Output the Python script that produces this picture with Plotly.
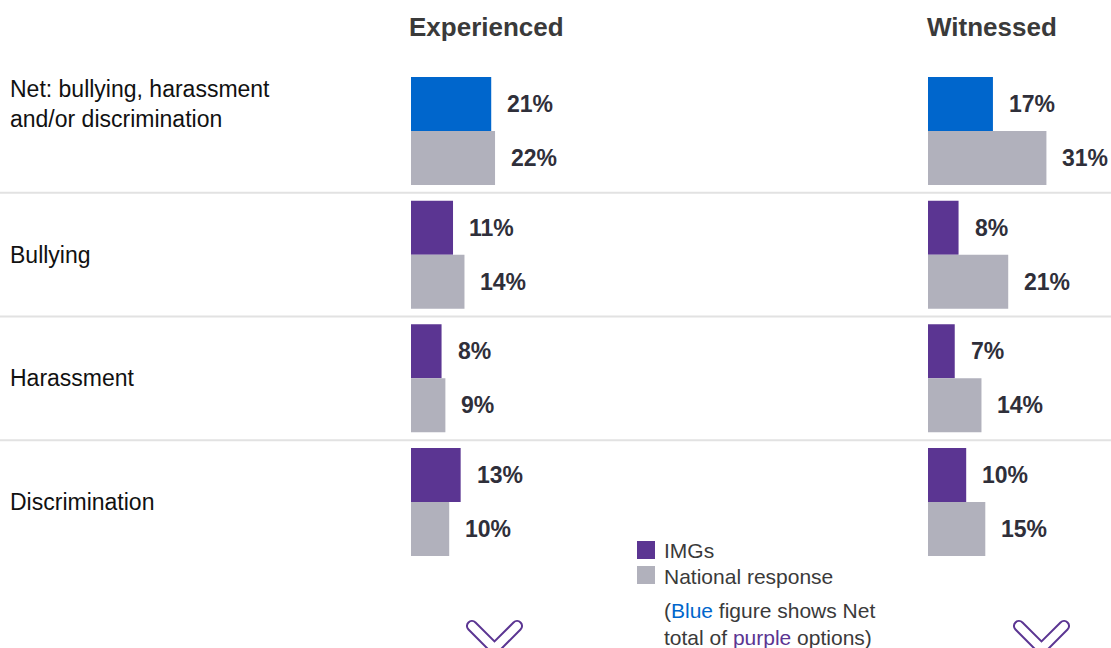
import plotly.graph_objects as go

W, H = 1111, 648

categories = ["Net: bullying, harassment<br>and/or discrimination", "Bullying", "Harassment", "Discrimination"]
imgs_experienced = [21, 11, 8, 13]
national_experienced = [22, 14, 9, 10]
imgs_witnessed = [17, 8, 7, 10]
national_witnessed = [31, 21, 14, 15]
panel_titles = ["Experienced", "Witnessed"]

BLUE = "#0066CC"
PURPLE = "#5B3592"
GREY = "#B1B1BC"
TXT = "#2F2F3A"
FONT = "Arial, Liberation Sans, sans-serif"

ypos = list(range(len(categories)))
imgs_colors = [BLUE] + [PURPLE] * (len(categories) - 1)

def px(x):
    return x / W

def py(y):
    return 1 - y / H

fig = go.Figure()
panels = [("x", imgs_experienced, national_experienced), ("x2", imgs_witnessed, national_witnessed)]
for xa, imgs, nat in panels:
    fig.add_trace(go.Bar(y=ypos, x=imgs, orientation="h", xaxis=xa, yaxis="y",
                         marker=dict(color=imgs_colors, line=dict(width=0)), name="IMGs",
                         showlegend=False, hoverinfo="skip"))
    fig.add_trace(go.Bar(y=ypos, x=nat, orientation="h", xaxis=xa, yaxis="y",
                         marker=dict(color=GREY, line=dict(width=0)), name="National response",
                         showlegend=False, hoverinfo="skip"))

bargap = 0.127
half = (1 - bargap) / 4  # center offset of each bar within group

annotations = []
for xa, imgs, nat in panels:
    for i in ypos:
        for val, off in ((imgs[i], -half), (nat[i], half)):
            annotations.append(dict(x=val, y=i + off, xref=xa, yref="y", text=f"<b>{val}%</b>",
                                    showarrow=False, xanchor="left", yanchor="middle", xshift=14,
                                    font=dict(size=23, color=TXT, family=FONT)))

# category labels
for i, c in enumerate(categories):
    yy = i - half if i == 0 else i
    annotations.append(dict(x=px(8), y=yy, xref="paper", yref="y", text=c, showarrow=False,
                            xanchor="left", yanchor="middle", align="left",
                            font=dict(size=23, color="#111111", family=FONT)))

# headers
for cx, t in zip([486, 992], panel_titles):
    annotations.append(dict(x=px(cx), y=py(27), xref="paper", yref="paper", text=f"<b>{t}</b>",
                            showarrow=False, xanchor="center", yanchor="middle",
                            font=dict(size=26, color="#3A3A3A", family=FONT)))

# legend
LEG = "#3a3a3a"
annotations.append(dict(x=px(662), y=py(550), xref="paper", yref="paper", text="IMGs", showarrow=False,
                        xanchor="left", yanchor="middle", font=dict(size=21, color=LEG, family=FONT)))
annotations.append(dict(x=px(662), y=py(576), xref="paper", yref="paper", text="National response",
                        showarrow=False, xanchor="left", yanchor="middle",
                        font=dict(size=21, color=LEG, family=FONT)))
annotations.append(dict(x=px(662), y=py(624), xref="paper", yref="paper",
                        text=f"(<span style='color:{BLUE}'>Blue</span> figure shows Net<br>total of <span style='color:{PURPLE}'>purple</span> options)",
                        showarrow=False, xanchor="left", yanchor="middle", align="left",
                        font=dict(size=21, color=LEG, family=FONT)))

shapes = []
# separators between rows
for i in ypos[:-1]:
    shapes.append(dict(type="line", xref="paper", yref="y", x0=0, x1=1, y0=i + 0.5, y1=i + 0.5,
                       line=dict(color="#E2E2E2", width=2)))
# legend swatches
for y0, col in ((541, PURPLE), (566, GREY)):
    shapes.append(dict(type="rect", xref="paper", yref="paper", x0=px(637), x1=px(655), y0=py(y0), y1=py(y0 + 18),
                       fillcolor=col, line=dict(width=0)))

# chevrons
def chevron(cx):
    p = lambda dx, dy: f"{px(cx + dx):.5f},{py(621 + dy):.5f}"
    d = ("M " + p(-26, 8.5) + " L " + p(0, 34.6) + " L " + p(26, 8.5) +
         " C " + p(30.7, 3.8) + " " + p(23.7, -3.2) + " " + p(19, 1.5) +
         " L " + p(0, 20.4) + " L " + p(-19, 1.5) +
         " C " + p(-23.7, -3.2) + " " + p(-30.7, 3.8) + " " + p(-26, 8.5) + " Z")
    return dict(type="path", xref="paper", yref="paper", path=d, line=dict(color=PURPLE, width=2),
                fillcolor="rgba(0,0,0,0)")

shapes.append(chevron(494.5))
shapes.append(chevron(1041.5))

scale = 3.82  # px per percent
span = 40
fig.update_layout(
    width=W, height=H, margin=dict(l=0, r=0, t=0, b=0),
    paper_bgcolor="white", plot_bgcolor="white",
    barmode="group", bargap=bargap, bargroupgap=0,
    xaxis=dict(domain=[px(411), px(411 + span * scale)], range=[0, span], visible=False, fixedrange=True),
    xaxis2=dict(domain=[px(928), px(928 + span * scale)], range=[0, span], visible=False, fixedrange=True, anchor="y"),
    yaxis=dict(domain=[py(563.8), py(69.2)], range=[3.5, -0.5], visible=False, fixedrange=True),
    annotations=annotations, shapes=shapes, showlegend=False,
    font=dict(family=FONT),
)

fig.write_html("out.html", config={"displayModeBar": False},
               post_script="document.body.style.margin='0px'; document.body.style.overflow='hidden';")
